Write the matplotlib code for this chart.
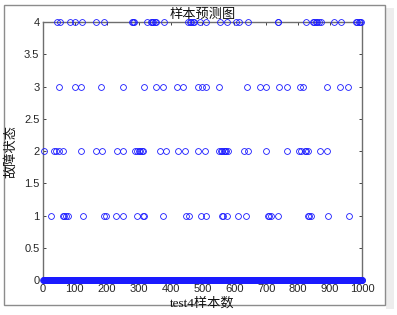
import numpy as np
import matplotlib
matplotlib.use("Agg")
import matplotlib.pyplot as plt
from matplotlib.patches import Rectangle

# ---- data (sample indices predicted as each fault class; all others are class 0) ----
n_samples = 1000
class4_idx = [45, 55, 86, 100, 122, 165, 192, 280, 282, 284, 325, 338, 342, 346, 350, 354,
              379, 455, 460, 465, 470, 475, 492, 512, 555, 576, 605, 614, 642, 736, 737,
              823, 845, 850, 855, 860, 865, 870, 913, 934, 980, 985, 990, 995, 998]
class3_idx = [51, 101, 119, 165, 183, 251, 317, 355, 375, 420, 438, 485, 500, 511, 553, 555,
              614, 638, 680, 699, 740, 765, 806, 815, 891, 931, 957]
class2_idx = [5, 35, 40, 45, 50, 55, 63, 120, 168, 186, 232, 250, 290, 295, 300, 305, 310,
              315, 367, 385, 424, 445, 487, 500, 509, 552, 558, 562, 566, 570, 575, 580,
              614, 631, 643, 700, 764, 803, 810, 815, 820, 825, 832, 868, 889, 957]
class1_idx = [27, 35, 45, 55, 62, 67, 72, 80, 100, 125, 168, 190, 197, 230, 252, 294, 313,
              318, 355, 377, 424, 447, 458, 487, 495, 510, 553, 560, 565, 578, 612, 635,
              680, 700, 705, 710, 715, 738, 764, 806, 825, 830, 835, 840, 868, 892, 934, 959]

x_ticks = [0, 100, 200, 300, 400, 500, 600, 700, 800, 900, 1000]
y_ticks = [0, 0.5, 1, 1.5, 2, 2.5, 3, 3.5, 4]
title_text = "样本预测图"
xlabel_text = "test4样本数"
ylabel_text = "故障状态"

samples = np.arange(1, n_samples + 1)
pred = np.zeros(n_samples)
for cls, idx in [(1, class1_idx), (2, class2_idx), (3, class3_idx), (4, class4_idx)]:
    pred[np.array(idx) - 1] = cls

fig = plt.figure(figsize=(3.97, 3.15), dpi=100)
fig.patch.set_facecolor("white")

# outer frame with light shadow (screenshot look)
fig.patches.append(Rectangle((0.972, 0.02), 0.02, 0.955, transform=fig.transFigure,
                             facecolor="#ededed", edgecolor="none", zorder=-10))
fig.patches.append(Rectangle((0.010, 0.032), 0.960, 0.952, transform=fig.transFigure,
                             facecolor="white", edgecolor="#8c8c8c", linewidth=1.0, zorder=-9))

ax = fig.add_axes([0.108, 0.111, 0.804, 0.819])
ax.set_zorder(5)
ax.plot(samples, pred, "o", color="#1a1aff", markerfacecolor="none",
        markersize=4.2, markeredgewidth=0.6, clip_on=False, zorder=3)

ax.set_xlim(0, 1000)
ax.set_ylim(0, 4)
ax.set_xticks(x_ticks)
ax.set_yticks(y_ticks)
ax.set_xticklabels([str(t) for t in x_ticks])
ax.set_yticklabels(["0", "0.5", "1", "1.5", "2", "2.5", "3", "3.5", "4"])
ax.tick_params(direction="in", length=2.5, width=0.6, top=True, right=True,
               labelsize=8, colors="#262626", pad=2.5)
for lab in ax.get_xticklabels() + ax.get_yticklabels():
    lab.set_family(["Liberation Sans", "DejaVu Sans"])
for s in ax.spines.values():
    s.set_color("#6e6e6e")
    s.set_linewidth(1.0)

cjk = ["Liberation Serif", "Noto Sans CJK SC"]
ax.set_title(title_text, family=cjk, fontsize=9.5, pad=3, color="#111111")
ax.set_xlabel(xlabel_text, family=cjk, fontsize=9.5, labelpad=3, color="#111111")
ax.set_ylabel(ylabel_text, family=cjk, fontsize=9.5, labelpad=5, color="#111111")

fig.savefig("out.png", dpi=100, facecolor="white")
